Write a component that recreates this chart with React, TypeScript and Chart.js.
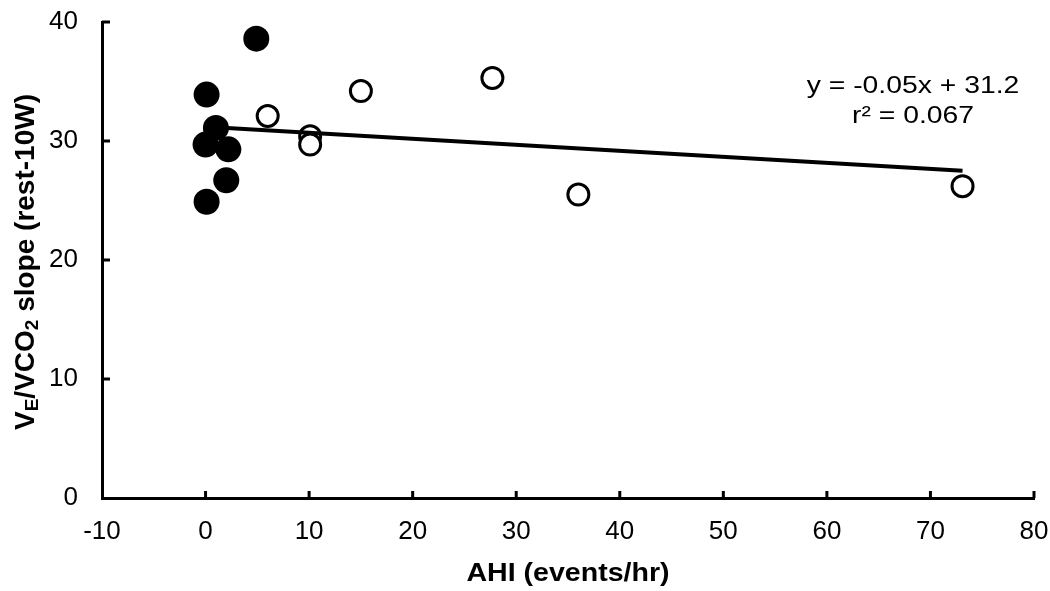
import React, { useEffect, useRef } from "react";
import { Chart, registerables } from "chart.js";

Chart.register(...registerables);

// Filled circles (black)
const filledX = [4.9, 0.1, 1.0, 0.0, 2.2, 2.0, 0.1];
const filledY = [38.6, 33.9, 31.1, 29.7, 29.3, 26.7, 24.9];
// Open circles
const openX = [6.0, 10.1, 10.1, 15.0, 27.7, 36.0, 73.1];
const openY = [32.1, 30.4, 29.7, 34.2, 35.3, 25.5, 26.2];
// Regression line end points
const trendX = [0, 73.1];
const trendY = [31.2, 27.5];

const xTicks = [-10, 0, 10, 20, 30, 40, 50, 60, 70, 80];
const yTicks = [0, 10, 20, 30, 40];

const equationText = "y = -0.05x + 31.2";
const r2Text = "r² = 0.067";
const xTitle = "AHI (events/hr)";

const FONT = "'Liberation Sans', Arial, sans-serif";

function stretchedText(ctx: any, text: string, x: number, y: number, sx: number) {
  ctx.save();
  ctx.translate(x, y);
  ctx.scale(sx, 1);
  ctx.fillText(text, 0, 0);
  ctx.restore();
}

const overlayPlugin = {
  id: "overlay",
  afterDraw(chart: any) {
    const ctx = chart.ctx;
    const xs = chart.scales.x;
    const ys = chart.scales.y;
    const area = chart.chartArea;
    ctx.save();
    // inward tick marks
    ctx.strokeStyle = "#000";
    ctx.lineWidth = 3;
    xTicks.forEach((v) => {
      if (v === xTicks[0]) return;
      const px = xs.getPixelForValue(v);
      ctx.beginPath();
      ctx.moveTo(px, area.bottom);
      ctx.lineTo(px, area.bottom - 7);
      ctx.stroke();
    });
    yTicks.forEach((v) => {
      if (v === yTicks[0]) return;
      const py = ys.getPixelForValue(v);
      ctx.beginPath();
      ctx.moveTo(area.left, py);
      ctx.lineTo(area.left + 8, py);
      ctx.stroke();
    });
    // equation text
    ctx.fillStyle = "#000";
    ctx.font = `24px ${FONT}`;
    ctx.textAlign = "center";
    ctx.textBaseline = "middle";
    stretchedText(ctx, equationText, 913, 86, 1.18);
    stretchedText(ctx, r2Text, 913, 116, 1.18);

    // x axis title
    ctx.font = `bold 25.5px ${FONT}`;
    stretchedText(ctx, xTitle, (area.left + area.right) / 2, 574, 1.12);

    // y axis title with subscripts
    const parts: [string, boolean][] = [
      ["V", false],
      ["E", true],
      ["/VCO", false],
      ["2", true],
      [" slope (rest-10W)", false],
    ];
    const mainFont = `bold 28px ${FONT}`;
    const subFont = `bold 19px ${FONT}`;
    let total = 0;
    parts.forEach(([t, sub]) => {
      ctx.font = sub ? subFont : mainFont;
      total += ctx.measureText(t).width;
    });
    ctx.translate(26, 262);
    ctx.rotate(-Math.PI / 2);
    ctx.textAlign = "left";
    ctx.textBaseline = "middle";
    let cx = -total / 2;
    parts.forEach(([t, sub]) => {
      ctx.font = sub ? subFont : mainFont;
      ctx.fillText(t, cx, sub ? 7 : 0);
      cx += ctx.measureText(t).width;
    });
    ctx.restore();
  },
};

export default function App() {
  const ref = useRef<HTMLCanvasElement>(null);
  useEffect(() => {
    document.body.style.margin = "0";
    const chart = new Chart(ref.current!, {
      type: "scatter",
      data: {
        datasets: [
          {
            type: "line",
            label: "trend",
            data: trendX.map((x, i) => ({ x, y: trendY[i] })),
            borderColor: "#000",
            borderWidth: 4,
            pointRadius: 0,
            showLine: true,
            fill: false,
            order: 0,
          } as any,
          {
            label: "open",
            data: openX.map((x, i) => ({ x, y: openY[i] })),
            backgroundColor: "#fff",
            borderColor: "#000",
            borderWidth: 3,
            pointRadius: 10.5,
            order: 1,
          },
          {
            label: "filled",
            data: filledX.map((x, i) => ({ x, y: filledY[i] })),
            backgroundColor: "#000",
            borderColor: "#000",
            borderWidth: 0,
            pointRadius: 13,
            order: 2,
          },
        ],
      },
      options: {
        animation: false,
        responsive: false,
        maintainAspectRatio: false,
        layout: { padding: { top: 22, right: 16, left: 0, bottom: 0 } },
        plugins: {
          legend: { display: false },
          tooltip: { enabled: false },
        },
        scales: {
          x: {
            type: "linear",
            min: -10,
            max: 80,
            afterFit: (s: any) => {
              s.height = 93;
              s.paddingLeft = 0;
              s.paddingRight = 0;
            },
            afterBuildTicks: (s: any) => {
              s.ticks = xTicks.map((v) => ({ value: v }));
            },
            ticks: {
              color: "#000",
              font: { family: FONT, size: 26 },
              padding: 18,
              maxRotation: 0,
            },
            grid: { display: false, drawTicks: false },
            border: { display: true, color: "#000", width: 3 },
          },
          y: {
            type: "linear",
            min: 0,
            max: 40,
            afterFit: (s: any) => {
              s.width = 102;
              s.paddingTop = 0;
              s.paddingBottom = 0;
            },
            afterBuildTicks: (s: any) => {
              s.ticks = yTicks.map((v) => ({ value: v }));
            },
            ticks: {
              color: "#000",
              font: { family: FONT, size: 26 },
              padding: 24,
            },
            grid: { display: false, drawTicks: false },
            border: { display: true, color: "#000", width: 3 },
          },
        },
      },
      plugins: [overlayPlugin],
    } as any);
    return () => chart.destroy();
  }, []);
  return (
    <div style={{ position: "absolute", left: 0, top: 0, width: 1050, height: 591, background: "#fff" }}>
      <canvas ref={ref} width={1050} height={591} style={{ width: 1050, height: 591 }} />
    </div>
  );
}
